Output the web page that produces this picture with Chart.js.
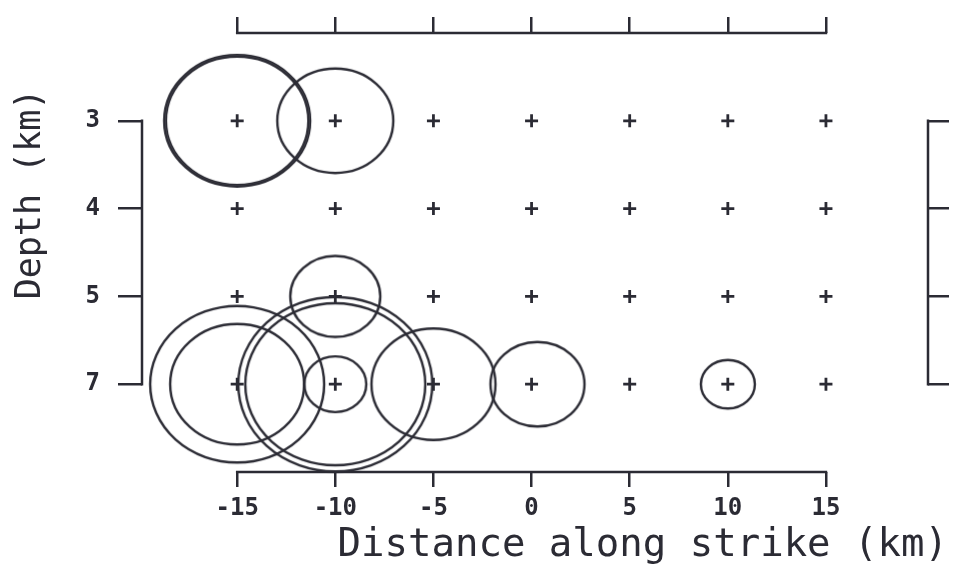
<!DOCTYPE html>
<html>
<head>
<meta charset="utf-8">
<script src="https://cdn.jsdelivr.net/npm/chart.js@4/dist/chart.umd.min.js"></script>
<style>
  html, body { margin: 0; padding: 0; background: #fff; }
  #wrap { width: 956px; height: 572px; position: relative; }
</style>
</head>
<body>
<div id="wrap"><canvas id="depthChart"></canvas></div>
<script>
// grid of trial hypocentres
const xTicks = [-15, -10, -5, 0, 5, 10, 15];
const depthLabels = ['3', '4', '5', '7'];

// rings: centre (distance, depth) and radius
const ringX = [-15, -15, -10, -10, -15, -15, -10, -10, -10, -5, 0.3, 10];
const ringDepth = ['3', '3', '3', '5', '7', '7', '7', '7', '7', '7', '7', '7'];
const ringR = [73, 71.2, 58, 45, 87, 67, 97, 90, 31, 62, 47, 27];

const xTitle = 'Distance along strike (km)';
const yTitle = 'Depth (km)';

const ink = '#2b2b34';
const ringAspect = 0.9;
const ringWidth = 2.4;
const mono = '"DejaVu Sans Mono", "Liberation Mono", monospace';

// blank rows above and below leave room between the data and the top/bottom axes
const rowLabels = ['', ...depthLabels, ''];

function ringImage(r) {
  const ry = r * ringAspect;
  const pad = ringWidth + 1;
  const c = document.createElement('canvas');
  c.width = Math.ceil(r + pad) * 2;
  c.height = Math.ceil(ry + pad) * 2;
  const g = c.getContext('2d');
  g.strokeStyle = ink;
  g.lineWidth = ringWidth;
  g.beginPath();
  g.ellipse(c.width / 2, c.height / 2, r, ry, 0, 0, Math.PI * 2);
  g.stroke();
  return c;
}

const gridPoints = [];
depthLabels.forEach(d => xTicks.forEach(x => gridPoints.push({ x: x, y: d })));

const ringPoints = ringX.map((x, i) => ({ x: x, y: ringDepth[i] }));

function keepXTicks(scale) {
  scale.ticks = xTicks.map(v => ({ value: v }));
}
function keepDepthTicks(scale) {
  scale.ticks = scale.ticks.filter(t => rowLabels[t.value] !== '');
}

// axis lines run only between the first and last tick
const axisLines = {
  id: 'axisLines',
  beforeDatasetsDraw(chart) {
    const ctx = chart.ctx;
    ctx.save();
    ctx.strokeStyle = ink;
    ctx.lineWidth = 2.5;
    ctx.lineCap = 'square';
    Object.values(chart.scales).forEach(s => {
      const a = s.getPixelForTick(0);
      const b = s.getPixelForTick(s.ticks.length - 1);
      ctx.beginPath();
      if (s.isHorizontal()) {
        const y = s.position === 'bottom' ? s.top : s.bottom;
        ctx.moveTo(a, y); ctx.lineTo(b, y);
      } else {
        const x = s.position === 'left' ? s.right : s.left;
        ctx.moveTo(x, a); ctx.lineTo(x, b);
      }
      ctx.stroke();
    });
    ctx.restore();
  }
};

const depthTitle = {
  id: 'depthTitle',
  afterDraw(chart) {
    const ctx = chart.ctx;
    ctx.save();
    ctx.translate(31, 194);
    ctx.rotate(-Math.PI / 2);
    ctx.font = '35px ' + mono;
    ctx.fillStyle = ink;
    ctx.textAlign = 'center';
    ctx.textBaseline = 'middle';
    ctx.fillText(yTitle, 0, 0);
    ctx.restore();
  }
};

const tickGrid = (len) => ({
  drawOnChartArea: false,
  drawTicks: true,
  tickLength: len,
  color: ink,
  lineWidth: 2.5
});

new Chart(document.getElementById('depthChart'), {
  type: 'scatter',
  data: {
    datasets: [
      {
        data: gridPoints,
        pointStyle: 'cross',
        pointRadius: 6.5,
        borderColor: ink,
        borderWidth: 2.8,
        clip: false
      },
      {
        data: ringPoints,
        pointStyle: ringR.map(ringImage),
        pointRadius: 5,
        clip: false
      }
    ]
  },
  options: {
    responsive: true,
    maintainAspectRatio: false,
    animation: false,
    events: [],
    layout: { padding: { top: 0, right: 8, bottom: 0, left: 0 } },
    plugins: {
      legend: { display: false },
      tooltip: { enabled: false },
      title: {
        display: true,
        position: 'bottom',
        align: 'end',
        text: xTitle,
        color: ink,
        font: { family: mono, size: 39, weight: 'normal', lineHeight: 1.2 },
        padding: { top: 0, bottom: 3 }
      }
    },
    scales: {
      x: {
        type: 'linear',
        position: 'bottom',
        min: -19.85,
        max: 20.2,
        afterBuildTicks: keepXTicks,
        afterFit: s => { s.height = 50.2; },
        border: { display: false },
        grid: tickGrid(15),
        ticks: {
          color: ink,
          padding: 7,
          maxRotation: 0,
          font: { family: mono, size: 24, weight: 'bold' }
        }
      },
      x2: {
        type: 'linear',
        position: 'top',
        min: -19.85,
        max: 20.2,
        afterBuildTicks: keepXTicks,
        afterFit: s => { s.height = 33; },
        border: { display: false },
        grid: tickGrid(16),
        ticks: { display: false }
      },
      y: {
        type: 'category',
        position: 'left',
        labels: rowLabels,
        afterBuildTicks: keepDepthTicks,
        afterFit: s => { s.width = 142; },
        border: { display: false },
        grid: tickGrid(24),
        ticks: {
          color: ink,
          padding: 18,
          font: { family: mono, size: 24, weight: 'bold' }
        }
      },
      y2: {
        type: 'category',
        position: 'right',
        labels: rowLabels,
        afterBuildTicks: keepDepthTicks,
        afterFit: s => { s.width = 20; },
        border: { display: false },
        grid: tickGrid(21),
        ticks: { display: false }
      }
    }
  },
  plugins: [axisLines, depthTitle]
});
</script>
</body>
</html>
